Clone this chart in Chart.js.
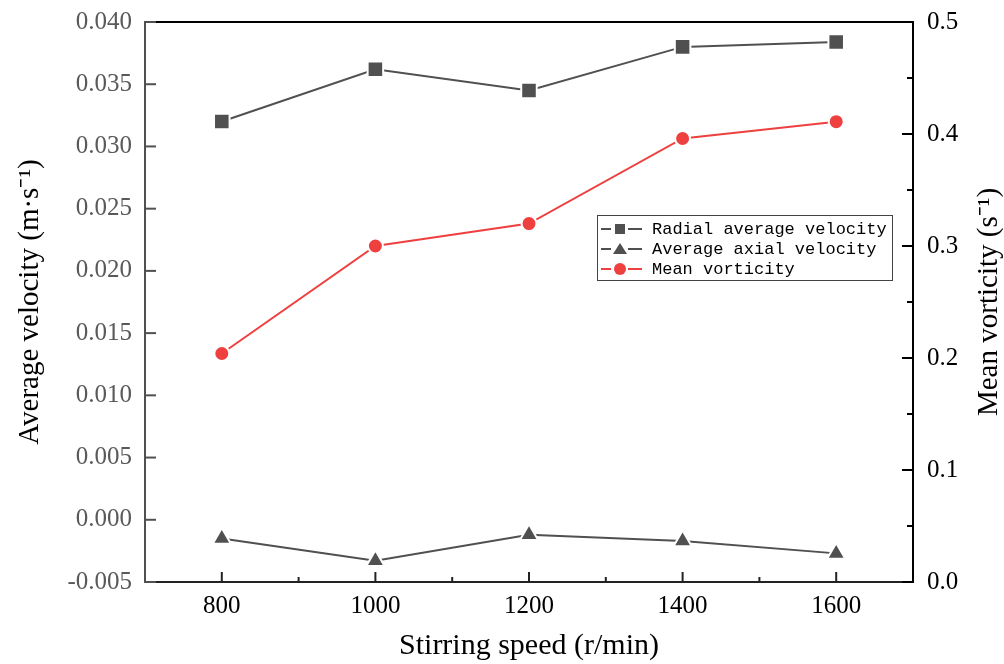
<!DOCTYPE html>
<html>
<head>
<meta charset="utf-8">
<script src="https://cdn.jsdelivr.net/npm/chart.js@4.4.1/dist/chart.umd.min.js"></script>
<style>
  body { margin: 0; background: #fff; }
  #wrap { width: 1004px; height: 664px; position: relative; }
</style>
</head>
<body>
<div id="wrap"><canvas id="speedChart"></canvas></div>
<script>
// stirring speed (r/min)
const speeds = [800, 1000, 1200, 1400, 1600];
// average velocities (m/s)
const radialVelocity = [0.0320, 0.0362, 0.0345, 0.0380, 0.0384];
const axialVelocity = [-0.0015, -0.0033, -0.0012, -0.0017, -0.0027];
// mean vorticity (1/s)
const meanVorticity = [0.204, 0.300, 0.320, 0.396, 0.411];

const xTicks = [800, 1000, 1200, 1400, 1600];
const xMinorTicks = [900, 1100, 1300, 1500];
const leftTicks = [-0.005, 0, 0.005, 0.010, 0.015, 0.020, 0.025, 0.030, 0.035, 0.040];
const rightTicks = [0, 0.1, 0.2, 0.3, 0.4, 0.5];
const rightMinorTicks = [0.05, 0.15, 0.25, 0.35, 0.45];

const GREY = '#505050';
const RED = '#ef4040';
const serif = "'Liberation Serif', 'Times New Roman', serif";

const pts = arr => arr.map((v, i) => ({ x: speeds[i], y: v }));

// ticks drawn inward, plus top frame, right title and legend
const framePlugin = {
    id: 'frame',
    afterDraw(chart) {
        const ctx = chart.ctx;
        const a = chart.chartArea;
        const { x, y, y1 } = chart.scales;

        ctx.save();
        ctx.lineWidth = 2;

        // top line
        ctx.strokeStyle = '#000';
        ctx.beginPath();
        ctx.moveTo(a.left, a.top);
        ctx.lineTo(a.right + 1, a.top);
        ctx.stroke();

        // left ticks
        ctx.strokeStyle = GREY;
        leftTicks.forEach(v => {
            const p = y.getPixelForValue(v);
            ctx.beginPath();
            ctx.moveTo(a.left, p);
            ctx.lineTo(a.left + 11, p);
            ctx.stroke();
        });

        // right ticks
        ctx.strokeStyle = '#000';
        rightTicks.forEach(v => {
            const p = y1.getPixelForValue(v);
            ctx.beginPath();
            ctx.moveTo(a.right, p);
            ctx.lineTo(a.right - 11, p);
            ctx.stroke();
        });
        rightMinorTicks.forEach(v => {
            const p = y1.getPixelForValue(v);
            ctx.beginPath();
            ctx.moveTo(a.right, p);
            ctx.lineTo(a.right - 6, p);
            ctx.stroke();
        });

        // bottom ticks
        ctx.strokeStyle = '#222';
        xTicks.forEach(v => {
            const p = x.getPixelForValue(v);
            ctx.beginPath();
            ctx.moveTo(p, a.bottom);
            ctx.lineTo(p, a.bottom - 10);
            ctx.stroke();
        });
        xMinorTicks.forEach(v => {
            const p = x.getPixelForValue(v);
            ctx.beginPath();
            ctx.moveTo(p, a.bottom);
            ctx.lineTo(p, a.bottom - 5);
            ctx.stroke();
        });

        // right axis title (reads bottom to top)
        ctx.fillStyle = '#000';
        ctx.font = '29px ' + serif;
        ctx.textAlign = 'center';
        ctx.textBaseline = 'middle';
        ctx.translate(989, (a.top + a.bottom) / 2);
        ctx.rotate(-Math.PI / 2);
        ctx.fillText('Mean vorticity (s\u207B\u00B9)', 0, 0);
        ctx.restore();

        // legend
        ctx.save();
        const lx = 597, ly = 215, lw = 295, lh = 65;
        ctx.fillStyle = '#fff';
        ctx.fillRect(lx, ly, lw, lh);
        ctx.strokeStyle = '#444';
        ctx.lineWidth = 1;
        ctx.strokeRect(lx + 0.5, ly + 0.5, lw, lh);
        ctx.font = "17px 'Liberation Mono', 'DejaVu Sans Mono', monospace";
        ctx.textBaseline = 'middle';
        chart.data.datasets.forEach((ds, i) => {
            const cy = ly + 14 + i * 20;
            const col = ds.backgroundColor;
            ctx.strokeStyle = col;
            ctx.lineWidth = 2;
            ctx.beginPath();
            ctx.moveTo(lx + 4, cy);
            ctx.lineTo(lx + 14, cy);
            ctx.moveTo(lx + 31, cy);
            ctx.lineTo(lx + 45, cy);
            ctx.stroke();
            ctx.fillStyle = col;
            const mx = lx + 23;
            ctx.beginPath();
            if (ds.pointStyle === 'rect') {
                ctx.rect(mx - 5, cy - 5, 10, 10);
            } else if (ds.pointStyle === 'triangle') {
                ctx.moveTo(mx, cy - 6);
                ctx.lineTo(mx + 7, cy + 5);
                ctx.lineTo(mx - 7, cy + 5);
                ctx.closePath();
            } else {
                ctx.arc(mx, cy, 6, 0, Math.PI * 2);
            }
            ctx.fill();
            ctx.fillStyle = '#000';
            ctx.fillText(ds.label, lx + 55, cy);
        });
        ctx.restore();
    }
};

const ctx = document.getElementById('speedChart').getContext('2d');
new Chart(ctx, {
    type: 'line',
    data: {
        datasets: [{
            label: 'Radial average velocity',
            data: pts(radialVelocity),
            yAxisID: 'y',
            borderColor: GREY,
            backgroundColor: GREY,
            borderWidth: 2,
            pointStyle: 'rect',
            pointRadius: 11,
            pointBorderColor: '#fff',
            pointBorderWidth: 2,
        }, {
            label: 'Average axial velocity',
            data: pts(axialVelocity),
            yAxisID: 'y',
            borderColor: GREY,
            backgroundColor: GREY,
            borderWidth: 2,
            pointStyle: 'triangle',
            pointRadius: 10.5,
            pointBorderColor: '#fff',
            pointBorderWidth: 2,
        }, {
            label: 'Mean vorticity',
            data: pts(meanVorticity),
            yAxisID: 'y1',
            borderColor: RED,
            backgroundColor: RED,
            borderWidth: 2,
            pointStyle: 'circle',
            pointRadius: 7.5,
            pointBorderColor: '#fff',
            pointBorderWidth: 2,
        }],
    },
    options: {
        responsive: true,
        maintainAspectRatio: false,
        animation: false,
        layout: { padding: { top: 22, left: 0, right: 0, bottom: 0 } },
        plugins: {
            legend: { display: false },
            tooltip: { enabled: false },
        },
        scales: {
            x: {
                type: 'linear',
                min: 700,
                max: 1700,
                afterBuildTicks: s => { s.ticks = xTicks.map(v => ({ value: v })); },
                afterFit: s => { s.height = 82; s.paddingLeft = 0; s.paddingRight = 0; },
                grid: { drawOnChartArea: false, drawTicks: false },
                border: { display: true, color: '#222', width: 2 },
                ticks: {
                    color: '#000',
                    padding: 9,
                    font: { family: serif, size: 25 },
                    callback: v => String(v),
                },
                title: {
                    display: true,
                    text: 'Stirring speed (r/min)',
                    color: '#000',
                    font: { family: serif, size: 30 },
                    padding: { top: 0, bottom: 0 },
                },
            },
            y: {
                position: 'left',
                min: -0.005,
                max: 0.040,
                afterBuildTicks: s => { s.ticks = leftTicks.map(v => ({ value: v })); },
                afterFit: s => { s.width = 145; s.paddingTop = 0; s.paddingBottom = 0; },
                grid: { drawOnChartArea: false, drawTicks: false },
                border: { display: true, color: GREY, width: 2 },
                ticks: {
                    color: '#595959',
                    padding: 13,
                    font: { family: serif, size: 25 },
                    callback: v => v.toFixed(3),
                },
                title: {
                    display: true,
                    text: 'Average velocity (m\u00B7s\u207B\u00B9)',
                    color: '#000',
                    font: { family: serif, size: 29 },
                    padding: { top: 13, bottom: 0 },
                },
            },
            y1: {
                position: 'right',
                min: 0,
                max: 0.5,
                afterBuildTicks: s => { s.ticks = rightTicks.map(v => ({ value: v })); },
                afterFit: s => { s.width = 91; s.paddingTop = 0; s.paddingBottom = 0; },
                grid: { drawOnChartArea: false, drawTicks: false },
                border: { display: true, color: '#000', width: 2 },
                ticks: {
                    color: '#000',
                    padding: 14,
                    font: { family: serif, size: 25 },
                    callback: v => v.toFixed(1),
                },
            },
        },
    },
    plugins: [framePlugin],
});
</script>
</body>
</html>
